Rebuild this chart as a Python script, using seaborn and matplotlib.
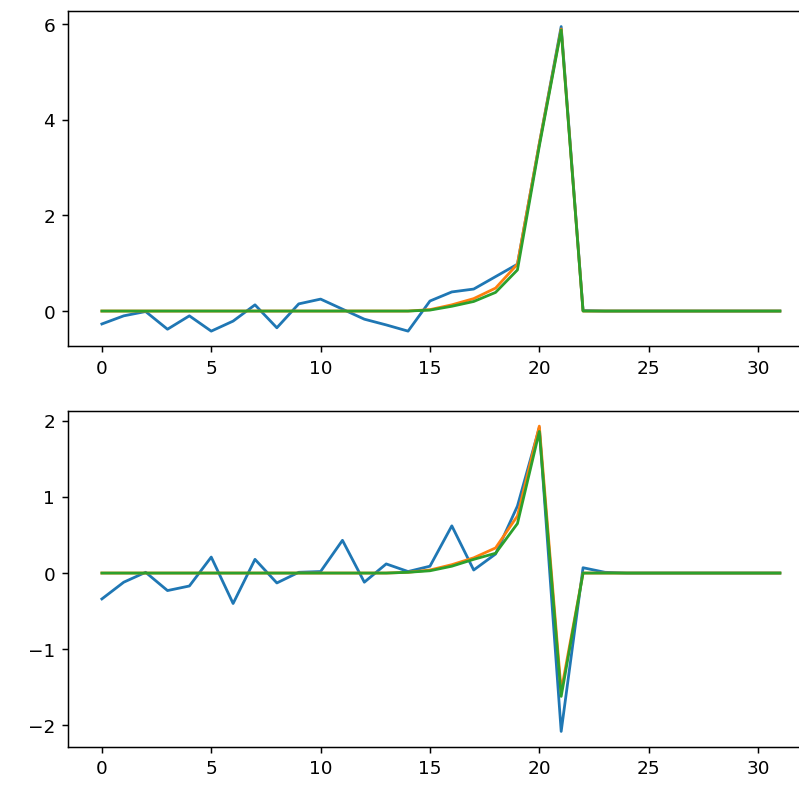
import numpy as np
import pandas as pd
import seaborn as sns
import matplotlib
matplotlib.use("Agg")
import matplotlib.pyplot as plt

# sample index
steps = list(range(32))

# top panel: signal and two fitted curves
top_raw = [-0.27, -0.10, -0.01, -0.38, -0.10, -0.42, -0.21, 0.13, -0.35, 0.15,
           0.25, 0.04, -0.17, -0.29, -0.42, 0.21, 0.40, 0.46, 0.72, 0.98,
           3.50, 5.95, 0.01] + [0.0] * 9
top_fit_a = [0.0] * 15 + [0.03, 0.13, 0.26, 0.48, 0.98, 3.50, 5.90, 0.0] + [0.0] * 9
top_fit_b = [0.0] * 15 + [0.02, 0.10, 0.20, 0.39, 0.86, 3.45, 5.88, 0.0] + [0.0] * 9

# bottom panel: derivative-like signal and two fitted curves
bot_raw = [-0.34, -0.12, 0.01, -0.23, -0.17, 0.21, -0.40, 0.18, -0.13, 0.01,
           0.02, 0.43, -0.12, 0.12, 0.02, 0.09, 0.62, 0.04, 0.25, 0.88,
           1.91, -2.08, 0.07, 0.01] + [0.0] * 8
bot_fit_a = [0.0] * 14 + [0.01, 0.04, 0.11, 0.20, 0.33, 0.75, 1.93, -1.55, 0.0] + [0.0] * 9
bot_fit_b = [0.0] * 14 + [0.01, 0.03, 0.09, 0.18, 0.26, 0.65, 1.86, -1.62, 0.0] + [0.0] * 9

series_names = ["raw", "fit_a", "fit_b"]


def to_long(cols):
    frames = []
    for name, vals in zip(series_names, cols):
        frames.append(pd.DataFrame({"step": steps, "value": vals, "series": name}))
    return pd.concat(frames, ignore_index=True)


top_df = to_long([top_raw, top_fit_a, top_fit_b])
bot_df = to_long([bot_raw, bot_fit_a, bot_fit_b])

palette = dict(zip(series_names, sns.color_palette("tab10", 3)))

fig = plt.figure(figsize=(6.0, 5.9), dpi=133.3)
# the original picture is cropped on the right, so the axes run past the edge
ax1 = fig.add_axes([0.085, 0.559, 0.9325, 0.426])
ax2 = fig.add_axes([0.085, 0.050, 0.9325, 0.427])

sns.lineplot(data=top_df, x="step", y="value", hue="series", palette=palette,
             legend=False, ax=ax1)
sns.lineplot(data=bot_df, x="step", y="value", hue="series", palette=palette,
             legend=False, ax=ax2)

for ax in (ax1, ax2):
    ax.set_xlabel("")
    ax.set_ylabel("")
    ax.set_xticks([0, 5, 10, 15, 20, 25, 30])
    ax.margins(x=0.05, y=0.05)

ax1.set_yticks([0, 2, 4, 6])
ax2.set_yticks([-2, -1, 0, 1, 2])

fig.savefig("out.png", dpi=133.3)
